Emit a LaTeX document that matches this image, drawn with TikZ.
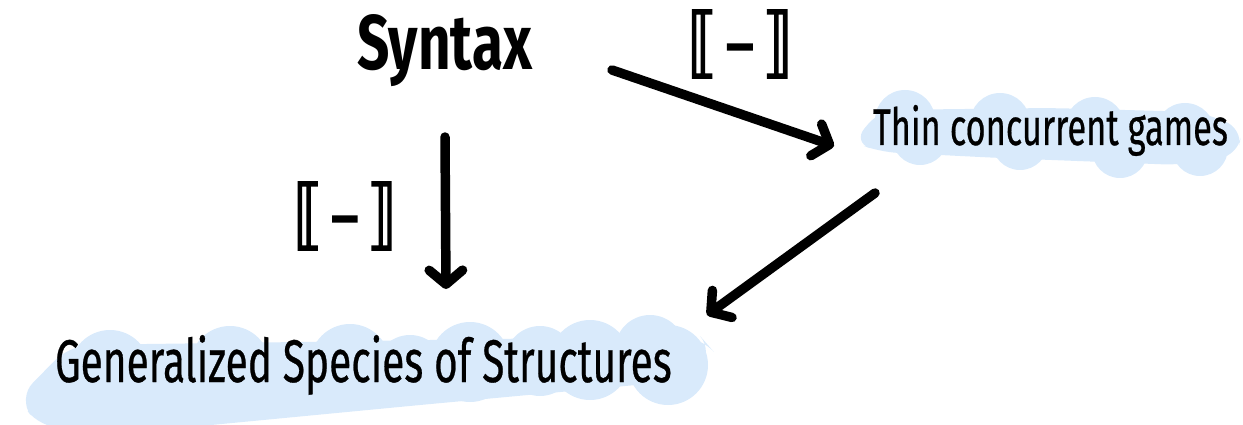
\documentclass[tikz,border=0pt]{standalone}
\usepackage{fontspec}
\usetikzlibrary{arrows.meta}
\setmainfont{Fira Sans}
\newfontfamily\handfont[FakeBold=0.6]{Fira Sans}
\newfontfamily\bracketfont[FakeBold=2.5]{DejaVu Sans}
\definecolor{hilite}{RGB}{217,234,251}
\begin{document}
\begin{tikzpicture}[x=0.02cm, y=-0.02cm,
  label/.style={inner sep=0pt, outer sep=0pt, anchor=base west},
  sem/.style={inner sep=0pt, outer sep=0pt, anchor=center},
  bump/.style={fill=hilite},
  conn/.style={draw=black, line width=5.4pt, line cap=round,
    -{Straight Barb[length=8pt, width=19pt, round]}}]
\useasboundingbox (0,0) rectangle (1243,425);

% highlighter patch behind the lower label
\fill[hilite, rounded corners=12pt] (18,398) -- (70,345) -- (300,342) -- (560,338)
  -- (700,336) -- (714,352) -- (690,380) -- (420,405) -- (180,428) -- (40,428) -- cycle;
\foreach \x/\y in {110/370, 230/366, 350/364, 470/362, 590/360, 668/365}
  \fill[bump] (\x,\y) circle (40);
\foreach \x/\y in {150/390, 280/380, 410/370, 540/361, 650/350}
  \fill[bump] (\x,\y) circle (35);

% highlighter patch behind the right label
\fill[hilite, rounded corners=10pt] (853,142) -- (880,110) -- (1050,108) -- (1200,112)
  -- (1242,128) -- (1238,155) -- (1180,165) -- (1000,158) -- (880,152) -- cycle;
\foreach \x/\y in {905/120, 1000/123, 1095/127, 1185/133}
  \fill[bump] (\x,\y) circle (30);
\foreach \x/\y in {920/137, 1020/142, 1120/150, 1200/148}
  \fill[bump] (\x,\y) circle (28);

% labels
\node[label] (syn) at (357,70)
  {\resizebox{99.6pt}{31.3pt}{\bfseries Syntax}};
\node[label] (thin) at (873,145)
  {\resizebox{202pt}{22.8pt}{\handfont Thin concurrent games}};
\node[label] (gen) at (55,382)
  {\resizebox{351pt}{26.7pt}{\handfont Generalized Species of Structures}};
\node[sem] (br1) at (740,44)
  {\resizebox*{60pt}{38.7pt}{\bracketfont ⟦\kern0.12em–\kern0.12em⟧}};
\node[sem] (br2) at (345,216)
  {\resizebox*{59pt}{38.7pt}{\bracketfont ⟦\kern0.12em–\kern0.12em⟧}};

% arrow end points
\coordinate (a1s) at (445,137);
\coordinate (a1e) at (446,289);
\coordinate (a2s) at (612,70);
\coordinate (a2e) at (834,146);
\coordinate (a3s) at (875,193);
\coordinate (a3e) at (707,315);

\draw[conn] (a1s) -- (a1e);
\draw[conn] (a2s) -- (a2e);
\draw[conn] (a3s) -- (a3e);
\end{tikzpicture}
\end{document}
